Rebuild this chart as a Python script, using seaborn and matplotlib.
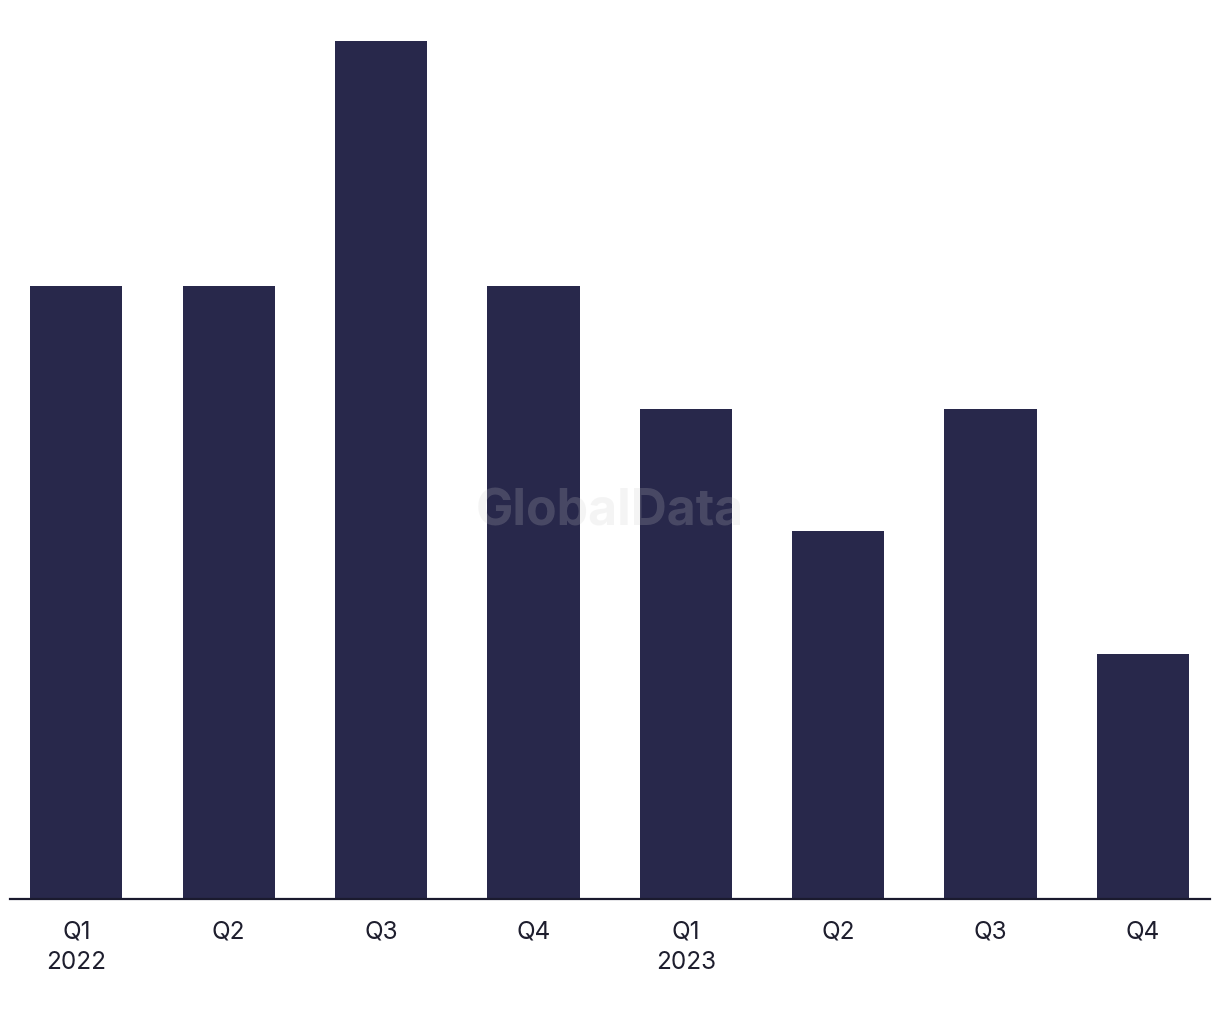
import matplotlib
matplotlib.use("Agg")
import matplotlib.pyplot as plt
import seaborn as sns
import pandas as pd

quarters = ["Q1\n2022", "Q2", "Q3", "Q4", "Q1\n2023", "Q2", "Q3", "Q4"]
keys = ["2022Q1", "2022Q2", "2022Q3", "2022Q4", "2023Q1", "2023Q2", "2023Q3", "2023Q4"]
values = [5, 5, 7, 5, 4, 3, 4, 2]

sns.set_theme(style="white")
plt.rcParams['font.family'] = ['Inter', 'DejaVu Sans']

df = pd.DataFrame({"key": keys, "value": values})

fig = plt.figure(figsize=(12.2, 10.2), dpi=100)
ax = fig.add_axes([10/1220, 120/1020, 1200/1220, (900-42)/1020])

sns.barplot(data=df, x="key", y="value", color="#28284B", saturation=1,
            width=0.605, linewidth=0, ax=ax)

ax.set_xlim(-0.435, 7.44)
ax.set_ylim(0, 7)
ax.set_xlabel("")
ax.set_ylabel("")
ax.set_yticks([])
ax.set_xticks(range(len(quarters)))
ax.set_xticklabels(quarters, fontsize=17.5, color="#1e1e2e", linespacing=1.41)
ax.tick_params(axis="x", length=0, pad=15)
for s in ["top", "right", "left"]:
    ax.spines[s].set_visible(False)
ax.spines["bottom"].set_color("#1a1a2e")
ax.spines["bottom"].set_linewidth(1.6)

fig.text(610/1220, 1 - 512/1020, "GlobalData", ha="center", va="center",
         fontsize=36, fontweight="bold", color="#cccccc", alpha=0.2)

fig.savefig("out.png", dpi=100, facecolor="white")
